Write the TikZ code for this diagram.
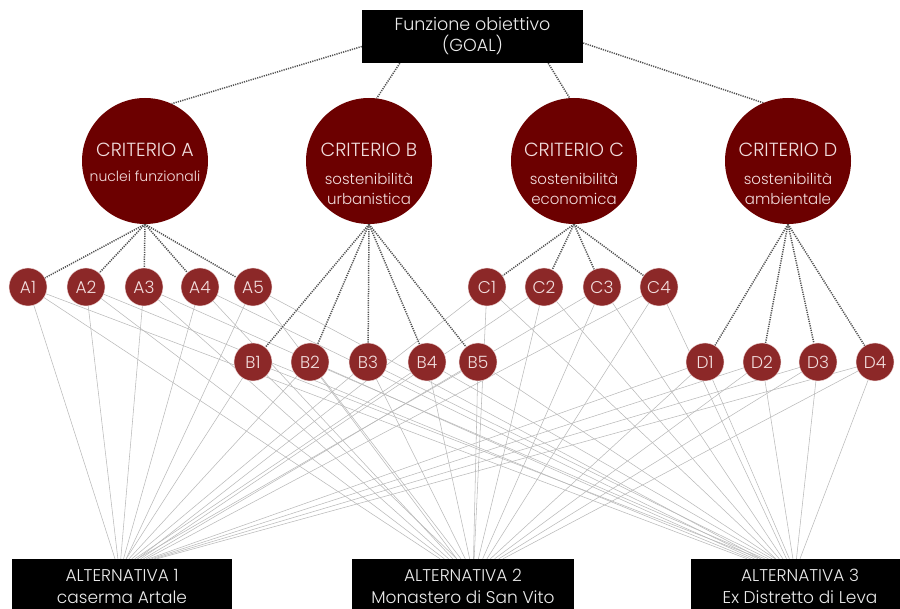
\documentclass[tikz,border=0pt]{standalone}
\usepackage{fontspec}
\setmainfont{Poppins}[UprightFont=* Light]
\usetikzlibrary{backgrounds}
\definecolor{critred}{RGB}{108,0,0}
\definecolor{subred}{RGB}{140,40,40}
\definecolor{lightpink}{RGB}{242,222,222}
\begin{document}
\begin{tikzpicture}[x=1pt, y=-1pt, line join=round, line cap=round,
  goalbox/.style={fill=black, text=white!92!black, minimum width=221, minimum height=53, inner sep=0, align=center, font=\fontsize{17.5}{21}\selectfont},
  altbox/.style={fill=black, text=white!92!black, minimum height=54, inner sep=0, align=center, font=\fontsize{17}{22}\selectfont},
  crit/.style={circle, fill=critred, minimum size=126, inner sep=0},
  crittitle/.style={text=lightpink, inner sep=0, font=\fontsize{19}{22}\selectfont},
  critsub/.style={text=lightpink, inner sep=0, align=center, anchor=north, font=\fontsize{15}{20}\selectfont},
  subnode/.style={circle, fill=subred, draw=lightpink, line width=.4, minimum size=38, inner sep=0, text=lightpink, font=\fontsize{17}{17}\selectfont},
  critline/.style={black!68, line width=1.5, line cap=butt, dash pattern=on 1.2pt off 1.1pt},
  altline/.style={black!27, line width=.55}]
\useasboundingbox (0,0) rectangle (900,609);

\node[goalbox] (goal) at (472.5,36.5) {Funzione obiettivo\\(GOAL)};

\node[crit] (critA) at (145,161) {};
\node[crit] (critB) at (369,161) {};
\node[crit] (critC) at (574,161) {};
\node[crit] (critD) at (788,161) {};
\node[crittitle] (titleA) at (145,150) {CRITERIO A};
\node[crittitle] (titleB) at (369,150) {CRITERIO B};
\node[crittitle] (titleC) at (574,150) {CRITERIO C};
\node[crittitle] (titleD) at (788,150) {CRITERIO D};
\node[critsub, font=\fontsize{14}{20}\selectfont] (subA) at (145,171) {nuclei funzionali};
\node[critsub] (subB) at (369,173) {sostenibilità\\urbanistica};
\node[critsub] (subC) at (574,173) {sostenibilità\\economica};
\node[critsub] (subD) at (788,173) {sostenibilità\\ambientale};

\node[altbox, minimum width=220] (alt1) at (122,586) {ALTERNATIVA 1\\caserma Artale};
\node[altbox, minimum width=222] (alt2) at (463,586) {ALTERNATIVA 2\\Monastero di San Vito};
\node[altbox, minimum width=218] (alt3) at (800,586) {ALTERNATIVA 3\\Ex Distretto di Leva};

\foreach \n/\px/\py in {A1/28/287, A2/86/287, A3/144/287, A4/200/287, A5/253/287,
    B1/253/362, B2/310/362, B3/368/362, B4/427/362, B5/478/362,
    C1/487/287, C2/544/287, C3/602/287, C4/659/287,
    D1/705/362, D2/762/362, D3/818/362, D4/875/362}{
  \node[subnode] (\n) at (\px,\py) {\n};
  \begin{pgfonlayer}{background}
    \foreach \alt/\o/\s in {alt1/-7/42, alt2/-23/63, alt3/-53/53}
      \draw[altline] (\n.center) -- ([xshift={\o+(\px-28)/847*\s}]\alt.north);
  \end{pgfonlayer}
}

\begin{pgfonlayer}{background}
  \draw[critline] ([yshift=-10]goal.west) -- (critA.65);
  \draw[critline] ([xshift=38]goal.south west) -- (critB.83);
  \draw[critline] ([xshift=-35]goal.south east) -- (critC.94);
  \draw[critline] ([yshift=-6.5]goal.east) -- (critD.113);
  \foreach \c/\list in {A/{A1,A2,A3,A4,A5}, B/{B1,B2,B3,B4,B5}, C/{C1,C2,C3,C4}, D/{D1,D2,D3,D4}}
    \foreach \n in \list
      \draw[critline] (crit\c.south) -- (\n);
\end{pgfonlayer}
\end{tikzpicture}
\end{document}
